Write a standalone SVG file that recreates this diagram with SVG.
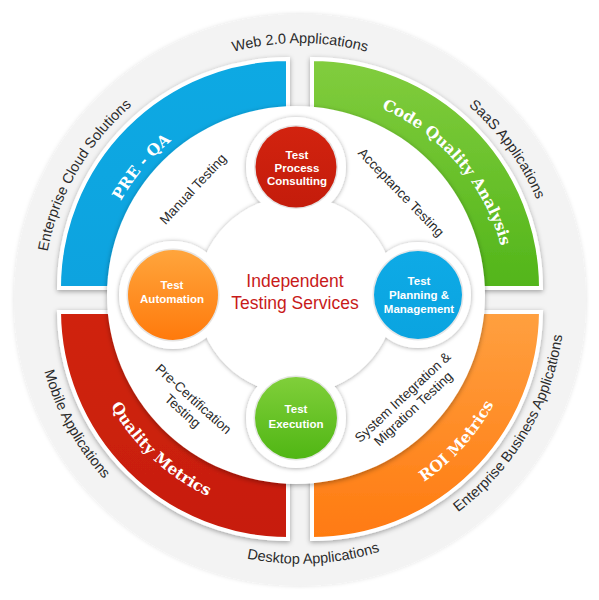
<svg xmlns="http://www.w3.org/2000/svg" width="599" height="600" viewBox="0 0 599 600">
<defs>
<style>
.ring{font-family:"Liberation Sans",Arial,sans-serif;font-size:14.5px;fill:#2b2b2b}
.quad{font-family:"DejaVu Serif",serif;font-weight:bold;font-size:15.5px;fill:#fff}
.lbl{font-family:"Liberation Sans",Arial,sans-serif;font-size:13.5px;fill:#2b2b2b;text-anchor:middle}
.nt{font-family:"Liberation Sans",Arial,sans-serif;font-weight:bold;font-size:11.5px;fill:#fff;text-anchor:middle}
.ctr{font-family:"Liberation Sans",Arial,sans-serif;font-size:17.5px;fill:#c81a1a;text-anchor:middle}
.qs{stroke:#fff;stroke-width:4;stroke-linejoin:miter}
</style>
<filter id="ds" x="-20%" y="-20%" width="140%" height="140%"><feDropShadow dx="0" dy="1.5" stdDeviation="2.5" flood-color="#000" flood-opacity="0.35"/></filter>
<filter id="ds2" x="-20%" y="-20%" width="140%" height="140%"><feDropShadow dx="0" dy="0.5" stdDeviation="2" flood-color="#000" flood-opacity="0.35"/></filter>
<filter id="soft" x="-10%" y="-10%" width="120%" height="120%"><feDropShadow dx="0" dy="0" stdDeviation="2" flood-color="#000" flood-opacity="0.12"/></filter>
<linearGradient id="gGreen" x1="0" y1="0" x2="0" y2="1"><stop offset="0" stop-color="#82cd3e"/><stop offset="1" stop-color="#52b51a"/></linearGradient>
<linearGradient id="gBlue" x1="0" y1="0" x2="0" y2="1"><stop offset="0" stop-color="#0fa9e3"/><stop offset="1" stop-color="#08a3df"/></linearGradient>
<linearGradient id="gRed" x1="0" y1="0" x2="0" y2="1"><stop offset="0" stop-color="#d0240f"/><stop offset="1" stop-color="#c71d0a"/></linearGradient>
<linearGradient id="gOrange" x1="0" y1="0" x2="0" y2="1"><stop offset="0" stop-color="#ffa040"/><stop offset="1" stop-color="#ff7a10"/></linearGradient>
<linearGradient id="nOrange" x1="0" y1="0" x2="0" y2="1"><stop offset="0" stop-color="#ffa53c"/><stop offset="1" stop-color="#ff7a0c"/></linearGradient>
<linearGradient id="nGreen" x1="0" y1="0" x2="0" y2="1"><stop offset="0" stop-color="#80cf3a"/><stop offset="1" stop-color="#50b614"/></linearGradient>
<linearGradient id="nRed" x1="0" y1="0" x2="0" y2="1"><stop offset="0" stop-color="#d2230f"/><stop offset="1" stop-color="#c41c0b"/></linearGradient>
<linearGradient id="nBlue" x1="0" y1="0" x2="0" y2="1"><stop offset="0" stop-color="#0eaae6"/><stop offset="1" stop-color="#0aa4e0"/></linearGradient>
<path id="pWeb" d="M43,300 A257,257 0 0 1 557,300"/>
<path id="pSaas" d="M148.9,92.1 A257,257 0 0 1 451.1,507.9"/>
<path id="pCloud" d="M171.5,522.6 A257,257 0 0 1 428.5,77.4"/>
<path id="pMobile" d="M170.1,65.6 A268,268 0 0 0 429.9,534.4"/>
<path id="pDesk" d="M32.4,314 A268,268 0 0 0 567.6,286"/>
<path id="pEba" d="M164,530.9 A268,268 0 0 0 436,69.1"/>
<path id="pPre" d="M166.3,459.3 A208,208 0 0 1 433.7,140.7"/>
<path id="pCode" d="M163.5,143 A208,208 0 0 1 436.5,457"/>
<path id="pQual" d="M139.1,150 A220,220 0 0 0 460.9,450"/>
<path id="pRoi" d="M152.8,463.5 A220,220 0 0 0 447.2,136.5"/>
</defs>
<rect width="599" height="600" fill="#fff"/>

<g id="outer-ring">
<circle cx="300" cy="300" r="286" fill="#f3f3f3" filter="url(#soft)"/>
<text class="ring"><textPath href="#pWeb" startOffset="50%" text-anchor="middle">Web 2.0 Applications</textPath></text>
<text class="ring"><textPath href="#pSaas" startOffset="50%" text-anchor="middle">SaaS Applications</textPath></text>
<text class="ring"><textPath href="#pCloud" startOffset="50%" text-anchor="middle">Enterprise Cloud Solutions</textPath></text>
<text class="ring"><textPath href="#pMobile" startOffset="50%" text-anchor="middle">Mobile Applications</textPath></text>
<text class="ring"><textPath href="#pDesk" startOffset="50%" text-anchor="middle">Desktop Applications</textPath></text>
<text class="ring"><textPath href="#pEba" startOffset="50%" text-anchor="middle">Enterprise Business Applications</textPath></text>
</g>

<g id="quadrants">
<g id="q-preqa"><path class="qs" d="M288,288 L59,288 A229,229 0 0 1 288,59 Z" fill="url(#gBlue)" filter="url(#ds)"/></g>
<g id="q-code"><path class="qs" d="M312,288 L312,59 A229,229 0 0 1 541,288 Z" fill="url(#gGreen)" filter="url(#ds)"/></g>
<g id="q-quality"><path class="qs" d="M288,312 L59,312 A229,229 0 0 0 288,539 Z" fill="url(#gRed)" filter="url(#ds)"/></g>
<g id="q-roi"><path class="qs" d="M312,312 L541,312 A229,229 0 0 1 312,539 Z" fill="url(#gOrange)" filter="url(#ds)"/></g>
</g>

<circle id="inner-disk" cx="296" cy="295" r="189" fill="#fff" filter="url(#ds)"/>

<g id="quadrant-labels">
<text class="quad"><textPath href="#pPre" startOffset="50%" text-anchor="middle">PRE - QA</textPath></text>
<text class="quad"><textPath href="#pCode" startOffset="50%" text-anchor="middle">Code Quality Analysis</textPath></text>
<text class="quad"><textPath href="#pQual" startOffset="50%" text-anchor="middle">Quality Metrics</textPath></text>
<text class="quad"><textPath href="#pRoi" startOffset="50%" text-anchor="middle">ROI Metrics</textPath></text>
</g>

<g id="connectors">
<g filter="url(#ds2)" fill="#fff">
<circle cx="296" cy="295" r="99"/>
<circle cx="296" cy="167" r="50"/>
<circle cx="173" cy="295" r="54"/>
<circle cx="418" cy="295" r="53"/>
<circle cx="296" cy="418" r="50"/>
</g>
<text class="lbl" transform="translate(193,189) rotate(-47)" y="4.5">Manual Testing</text>
<text class="lbl" transform="translate(401,192.5) rotate(46)" y="4.5">Acceptance Testing</text>
<g transform="translate(188,405) rotate(42)"><text class="lbl" y="-3.5">Pre-Certification</text><text class="lbl" y="12.5">Testing</text></g>
<g transform="translate(408,403) rotate(-43)"><text class="lbl" y="-3.3">System Integration &amp;</text><text class="lbl" y="12.3">Migration Testing</text></g>
</g>

<g id="node-consulting">
<circle cx="296" cy="167" r="42" fill="#e6e2e2"/>
<circle cx="296" cy="167" r="40.5" fill="url(#nRed)"/>
<text class="nt" x="297" y="159">Test</text>
<text class="nt" x="297" y="172">Process</text>
<text class="nt" x="297" y="185">Consulting</text>
</g>
<g id="node-automation">
<circle cx="173" cy="295" r="46.5" fill="#e6e4e2"/>
<circle cx="173" cy="295" r="45" fill="url(#nOrange)"/>
<text class="nt" x="172" y="289">Test</text>
<text class="nt" x="172" y="303">Automation</text>
</g>
<g id="node-planning">
<circle cx="418" cy="295" r="45.5" fill="#e4e6e8"/>
<circle cx="418" cy="295" r="44" fill="url(#nBlue)"/>
<text class="nt" x="419" y="285">Test</text>
<text class="nt" x="419" y="299">Planning &amp;</text>
<text class="nt" x="419" y="313">Management</text>
</g>
<g id="node-execution">
<circle cx="296" cy="418" r="42.5" fill="#e4e6e2"/>
<circle cx="296" cy="418" r="41" fill="url(#nGreen)"/>
<text class="nt" x="296" y="413">Test</text>
<text class="nt" x="296" y="428">Execution</text>
</g>

<g id="title">
<text class="ctr" x="295" y="287">Independent</text>
<text class="ctr" x="295" y="309">Testing Services</text>
</g>
</svg>
